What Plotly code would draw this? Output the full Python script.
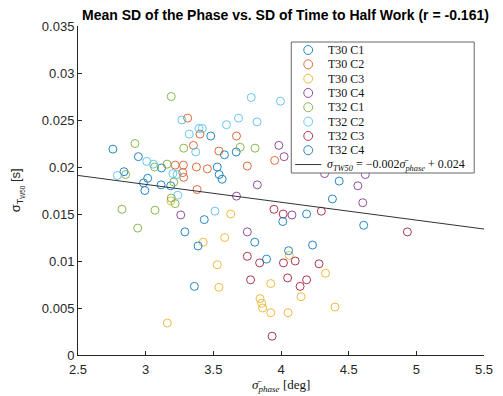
import plotly.graph_objects as go

W, H = 503, 396
ML, MR, MT, MB = 78, 10, 26, 41
PW, PH = W - ML - MR, H - MT - MB

series_names = ["T30 C1", "T30 C2", "T30 C3", "T30 C4", "T32 C1", "T32 C2", "T32 C3", "T32 C4"]
series_colors = ["#0072BD", "#D95319", "#EDB120", "#7E2F8E", "#77AC30", "#4DBEEE", "#A2142F", "#0072BD"]

t30c1_x = [2.758, 2.946, 3.117, 2.840, 3.015, 2.984, 3.114, 3.185, 2.994, 3.481, 3.529, 3.582, 3.669, 3.543]
t30c1_y = [0.0219, 0.0211, 0.0199, 0.0195, 0.0188, 0.0183, 0.0181, 0.0180, 0.0175, 0.0233, 0.0200, 0.0213, 0.0216, 0.0192]

t30c2_x = [3.310, 3.401, 3.671, 3.353, 3.541, 3.218, 3.279, 3.375, 3.456, 3.751, 3.953, 3.274, 3.281, 3.380]
t30c2_y = [0.0252, 0.0235, 0.0233, 0.0223, 0.0217, 0.0202, 0.0202, 0.0200, 0.0198, 0.0201, 0.0207, 0.0194, 0.0189, 0.0176]

t30c3_x = [3.187, 3.628, 3.425, 3.584, 3.529, 3.541, 3.924, 3.845, 3.857, 3.864, 3.924, 3.160, 4.061, 4.329, 4.148, 4.052, 4.399]
t30c3_y = [0.0164, 0.0150, 0.0120, 0.0125, 0.0096, 0.0072, 0.0076, 0.0060, 0.0055, 0.0050, 0.0045, 0.0034, 0.0106, 0.0087, 0.0062, 0.0045, 0.0051]

t30c4_x = [3.825, 3.671, 3.259, 3.751, 3.984, 4.023, 4.081, 4.322, 4.623, 4.568, 4.604]
t30c4_y = [0.0181, 0.0169, 0.0149, 0.0131, 0.0223, 0.0211, 0.0149, 0.0193, 0.0192, 0.0180, 0.0162]

t32c1_x = [3.189, 2.921, 3.281, 3.698, 3.808, 3.066, 3.158, 2.852, 3.208, 3.189, 3.218, 2.825, 3.069, 2.941]
t32c1_y = [0.0275, 0.0225, 0.0220, 0.0221, 0.0220, 0.0200, 0.0203, 0.0192, 0.0184, 0.0167, 0.0161, 0.0155, 0.0154, 0.0135]

t32c2_x = [3.780, 3.996, 3.268, 3.686, 3.823, 3.597, 3.322, 3.394, 3.418, 3.370, 3.008, 3.057, 2.791, 3.201, 3.232, 3.237, 3.512]
t32c2_y = [0.0274, 0.0270, 0.0250, 0.0252, 0.0248, 0.0245, 0.0235, 0.0241, 0.0241, 0.0216, 0.0206, 0.0203, 0.0191, 0.0193, 0.0192, 0.0170, 0.0153]

t32c3_x = [3.948, 4.016, 4.298, 4.934, 3.751, 3.842, 3.775, 4.018, 4.105, 4.281, 4.049, 4.189, 4.141, 3.934]
t32c3_y = [0.0155, 0.0150, 0.0153, 0.0131, 0.0105, 0.0098, 0.0080, 0.0098, 0.0100, 0.0097, 0.0082, 0.0080, 0.0073, 0.0020]

t32c4_x = [3.565, 3.433, 3.290, 3.387, 3.806, 3.893, 3.360, 4.430, 4.380, 4.013, 4.189, 4.611, 4.233, 4.056]
t32c4_y = [0.0187, 0.0144, 0.0131, 0.0116, 0.0120, 0.0102, 0.0073, 0.0185, 0.0166, 0.0142, 0.0150, 0.0138, 0.0117, 0.0111]

fit_x = [2.5, 5.5]
fit_y = [0.0191, 0.0134]
fit_label = "<i>σ</i><sub><i>TW50</i></sub> = −0.002<i>σ̄</i><sub><i>phase</i></sub> + 0.024"

x_ticks = [2.5, 3, 3.5, 4, 4.5, 5, 5.5]
x_tick_labels = ["2.5", "3", "3.5", "4", "4.5", "5", "5.5"]
y_ticks = [0, 0.005, 0.01, 0.015, 0.02, 0.025, 0.03, 0.035]
y_tick_labels = ["0", "0.005", "0.01", "0.015", "0.02", "0.025", "0.03", "0.035"]

title_text = "Mean SD of the Phase vs. SD of Time to Half Work (r = -0.161)"
x_label = "<i>σ̄</i><sub><i>phase</i></sub> [deg]"
y_label = "σ<sub>T<sub>W50</sub></sub> [s]"

all_x = [t30c1_x, t30c2_x, t30c3_x, t30c4_x, t32c1_x, t32c2_x, t32c3_x, t32c4_x]
all_y = [t30c1_y, t30c2_y, t30c3_y, t30c4_y, t32c1_y, t32c2_y, t32c3_y, t32c4_y]

AX = "#262626"
SANS = "Liberation Sans, Arial, sans-serif"
SERIF = "Liberation Serif, Times New Roman, serif"

fig = go.Figure()
for name, col, xs, ys in zip(series_names, series_colors, all_x, all_y):
    fig.add_trace(go.Scatter(x=xs, y=ys, mode="markers", name=name, opacity=0.85,
                             marker=dict(symbol="circle-open", size=8, color=col,
                                         line=dict(width=1, color=col)),
                             showlegend=False, cliponaxis=False))
fig.add_trace(go.Scatter(x=fit_x, y=fit_y, mode="lines", name="fit",
                         line=dict(color="#333333", width=1), showlegend=False))


def px(xp):
    return (xp - ML) / PW


def py(yp):
    return (H - MB - yp) / PH


shapes = []
annotations = []
# legend box
shapes.append(dict(type="rect", xref="paper", yref="paper",
                   x0=px(296), x1=px(483), y0=py(173), y1=py(42),
                   fillcolor="white", line=dict(color="#666666", width=1), layer="above"))
row0, drow = 50, 14.32
r = 4.5
for i, (name, col) in enumerate(zip(series_names, series_colors)):
    yc = row0 + i * drow
    shapes.append(dict(type="circle", xref="paper", yref="paper", opacity=0.85,
                       x0=px(313.3 - r), x1=px(313.3 + r), y0=py(yc + r), y1=py(yc - r),
                       line=dict(color=col, width=1), fillcolor="rgba(0,0,0,0)", layer="above"))
    annotations.append(dict(xref="paper", yref="paper", x=px(331), y=py(yc), text=name,
                            showarrow=False, xanchor="left", yanchor="middle",
                            font=dict(family=SERIF, size=12, color="#111111")))
yc = row0 + 8 * drow
shapes.append(dict(type="line", xref="paper", yref="paper", x0=px(300), x1=px(326.7),
                   y0=py(yc), y1=py(yc), line=dict(color="#333333", width=1), layer="above"))
annotations.append(dict(xref="paper", yref="paper", x=px(330), y=py(yc), text=fit_label,
                        showarrow=False, xanchor="left", yanchor="middle",
                        font=dict(family=SERIF, size=12, color="#111111")))
# axis labels
annotations.append(dict(xref="paper", yref="paper", x=px(285.5), y=py(385), text=x_label,
                        showarrow=False, xanchor="center", yanchor="middle",
                        font=dict(family=SERIF, size=13, color="#111111")))
annotations.append(dict(xref="paper", yref="paper", x=px(16), y=py(190), text=y_label,
                        showarrow=False, xanchor="center", yanchor="middle", textangle=-90,
                        font=dict(family=SANS, size=13, color=AX)))

fig.update_layout(
    width=W, height=H,
    margin=dict(l=ML, r=MR, t=MT, b=MB, pad=0),
    paper_bgcolor="white", plot_bgcolor="white",
    title=dict(text="<b>" + title_text + "</b>", x=(ML + PW / 2) / W, xanchor="center",
               y=1 - 15 / H, yanchor="middle", font=dict(family=SANS, size=14, color="black")),
    xaxis=dict(range=[2.5, 5.5], tickvals=x_ticks, ticktext=x_tick_labels,
               showgrid=False, zeroline=False, showline=True, linecolor=AX, linewidth=1,
               ticks="inside", ticklen=4, tickcolor=AX, tickwidth=1, ticklabelstandoff=2,
               tickfont=dict(family=SANS, size=13, color=AX)),
    yaxis=dict(range=[0, 0.035], tickvals=y_ticks, ticktext=y_tick_labels,
               showgrid=False, zeroline=False, showline=True, linecolor=AX, linewidth=1,
               ticks="inside", ticklen=4, tickcolor=AX, tickwidth=1,
               tickfont=dict(family=SANS, size=13, color=AX)),
    shapes=shapes, annotations=annotations,
)

fig.write_html("out.html")
